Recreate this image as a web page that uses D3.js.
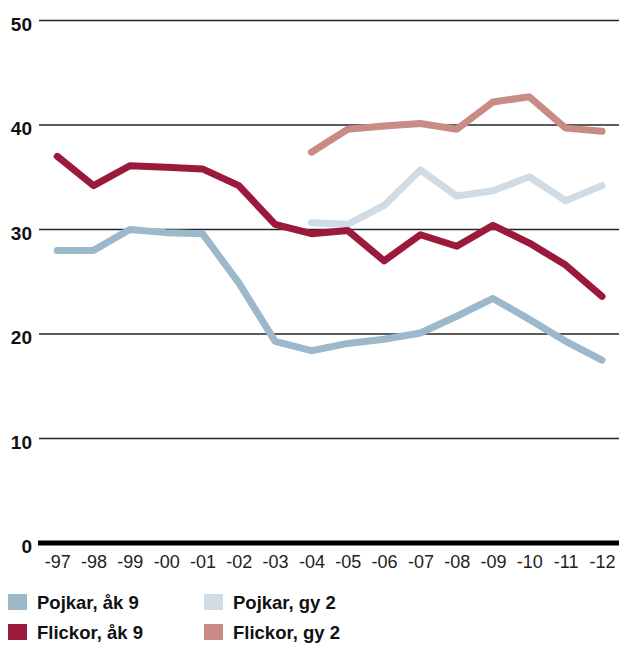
<!DOCTYPE html>
<html>
<head>
<meta charset="utf-8">
<script src="https://cdn.jsdelivr.net/npm/d3@7/dist/d3.min.js"></script>
<style>
  html, body { margin: 0; padding: 0; background: #fff; overflow: hidden; }
  svg { display: block; }
</style>
</head>
<body>
<svg id="chart" width="619" height="645"></svg>
<script>
// Years shown on the x axis
const years = ["-97","-98","-99","-00","-01","-02","-03","-04","-05","-06","-07","-08","-09","-10","-11","-12"];
const yTicks = [0, 10, 20, 30, 40, 50];

// Percent per group and year (null = no survey that year)
const pojkarAk9  = [28.0, 28.0, 30.0, 29.7, 29.6, 24.9, 19.3, 18.4, 19.1, 19.5, 20.1, 21.7, 23.4, 21.4, 19.3, 17.5];
const flickorAk9 = [37.0, 34.2, 36.1, 35.95, 35.8, 34.2, 30.5, 29.6, 29.9, 27.0, 29.5, 28.4, 30.4, 28.7, 26.6, 23.6];
const pojkarGy2  = [null, null, null, null, null, null, null, 30.65, 30.5, 32.3, 35.7, 33.2, 33.7, 35.05, 32.75, 34.2];
const flickorGy2 = [null, null, null, null, null, null, null, 37.4, 39.6, 39.9, 40.15, 39.6, 42.2, 42.7, 39.7, 39.4];

const seriesNames  = ["Pojkar, åk 9", "Pojkar, gy 2", "Flickor, åk 9", "Flickor, gy 2"];
const seriesColors = ["#9db7cb", "#cfdce6", "#9b1a3b", "#c98b86"];
const seriesValues = [pojkarAk9, pojkarGy2, flickorAk9, flickorGy2];

const svg = d3.select("#chart");
const font = "'Liberation Sans', Arial, sans-serif";

const x = d3.scalePoint().domain(years).range([57.2, 602]);
const y = d3.scaleLinear().domain([0, 50]).range([543, 20.5]);

// Horizontal grid lines
svg.append("g").selectAll("line")
  .data(yTicks.filter(d => d > 0))
  .join("line")
  .attr("x1", 39).attr("x2", 619)
  .attr("y1", d => y(d)).attr("y2", d => y(d))
  .attr("stroke", "#262626").attr("stroke-width", 1.4);

// Baseline
svg.append("line")
  .attr("x1", 38).attr("x2", 619)
  .attr("y1", y(0)).attr("y2", y(0))
  .attr("stroke", "#000").attr("stroke-width", 5);

// Y tick labels
svg.append("g").selectAll("text")
  .data(yTicks)
  .join("text")
  .attr("x", 32)
  .attr("y", d => y(d) + 10)
  .attr("text-anchor", "end")
  .attr("font-family", font)
  .attr("font-weight", "bold")
  .attr("font-size", 19)
  .attr("fill", "#111")
  .text(d => d);

// X axis labels
const xAxis = d3.axisBottom(x).tickSize(0).tickPadding(0);
const gx = svg.append("g").attr("transform", `translate(0, ${y(0) + 25})`).call(xAxis);
gx.select(".domain").remove();
gx.selectAll("text")
  .attr("dy", 0)
  .attr("font-family", font)
  .attr("font-size", 18)
  .attr("fill", "#222");

// Lines
const line = d3.line()
  .defined(d => d.v !== null)
  .x(d => x(d.year))
  .y(d => y(d.v));

seriesValues.forEach((vals, i) => {
  const pts = vals.map((v, j) => ({ year: years[j], v }));
  svg.append("path")
    .datum(pts)
    .attr("d", line)
    .attr("fill", "none")
    .attr("stroke", seriesColors[i])
    .attr("stroke-width", 7)
    .attr("stroke-linejoin", "round")
    .attr("stroke-linecap", "round");
});

// Legend (two columns, two rows)
const legendPos = [[8, 594], [204, 594], [8, 624], [204, 624]];
const lg = svg.append("g").selectAll("g")
  .data(seriesNames)
  .join("g")
  .attr("transform", (d, i) => `translate(${legendPos[i][0]}, ${legendPos[i][1]})`);
lg.append("rect")
  .attr("width", 19).attr("height", 16)
  .attr("fill", (d, i) => seriesColors[i]);
lg.append("text")
  .attr("x", 29).attr("y", 15)
  .attr("font-family", font)
  .attr("font-weight", "bold")
  .attr("font-size", 18.5)
  .attr("fill", "#111")
  .text(d => d);
</script>
</body>
</html>
